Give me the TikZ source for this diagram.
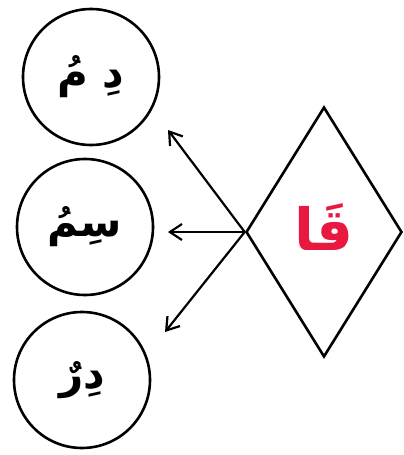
\documentclass[tikz,border=0pt]{standalone}
\usepackage{fontspec}
\newfontfamily\arabicfont[Script=Arabic]{DejaVu Sans}
\TeXXeTstate=1
\usetikzlibrary{arrows.meta, shapes.geometric}
\definecolor{Rojoletra}{RGB}{232,24,64}

\begin{document}
\begin{tikzpicture}[
  x=1pt, y=-1pt,
  silaba/.style={
    circle, draw, line width=2.6pt, minimum size=136pt, inner sep=0pt,
    font=\fontsize{42}{46}\selectfont\arabicfont\bfseries
  },
  rombo/.style={
    diamond, draw, line width=2.6pt, minimum width=156pt,
    minimum height=250pt, inner sep=0pt, text=Rojoletra,
    font=\fontsize{58}{62}\selectfont\arabicfont\bfseries
  },
  flecha/.style={-{Straight Barb[length=12pt,width=16pt]}, line width=2.2pt}
]
\useasboundingbox (0,0) rectangle (404,455);

%% ── Círculos de la izquierda ───────────────────────────────────────────────
\node[silaba] (dim) at (91,77)  {\beginR دِ مُ\endR};
\node[silaba] (sim) at (85,227) {\beginR سِمُ\endR};
\node[silaba] (dir) at (82,380) {\beginR دِرٌ\endR};

%% ── Rombo con la sílaba ────────────────────────────────────────────────────
\node[rombo] (qa) at (324,232) {\raisebox{10pt}{\beginR قَا\endR}};

%% ── Flechas ────────────────────────────────────────────────────────────────
\coordinate (arriba) at (168,130);
\coordinate (medio)  at (168,232);
\coordinate (abajo)  at (165,332);
\draw[flecha] (qa.west) -- (arriba);
\draw[flecha] (qa.west) -- (medio);
\draw[flecha] (qa.west) -- (abajo);

\end{tikzpicture}
\end{document}
